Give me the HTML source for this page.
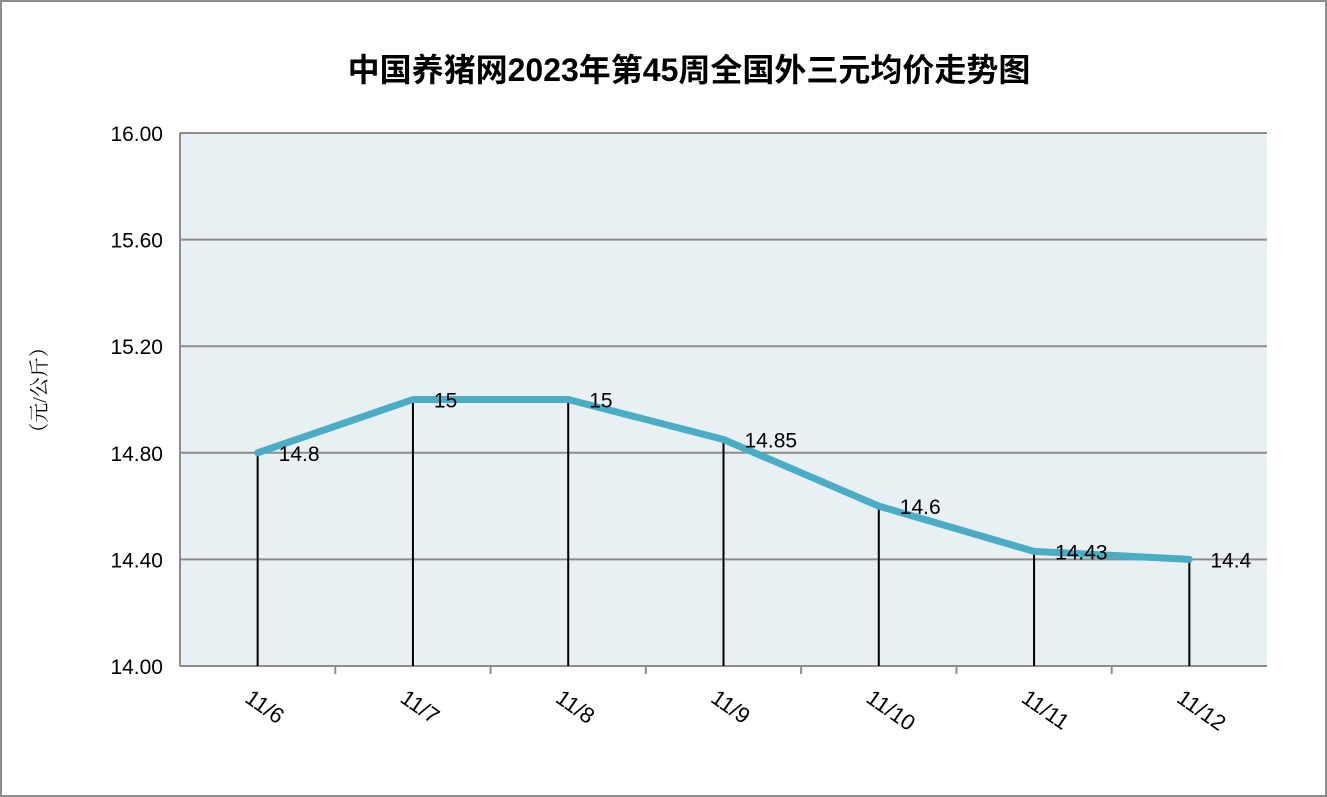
<!DOCTYPE html>
<html><head><meta charset="utf-8"><style>
html,body{margin:0;padding:0;background:#fff}
svg{display:block}
</style></head><body>
<svg id="chart" width="1327" height="797" xmlns="http://www.w3.org/2000/svg">
<rect x="1" y="1" width="1325" height="795" fill="#fff" stroke="#8c8c8c" stroke-width="2"/>
<text x="689" y="81" text-anchor="middle" font-family="'Liberation Sans','Noto Sans CJK SC',sans-serif" font-size="32" font-weight="600" fill="#000">中国养猪网2023年第45周全国外三元均价走势图</text>
<rect x="180" y="133" width="1087" height="533" fill="#e9f0f3"/>
<g id="grid"></g>
<g id="ylabels"></g>
<text transform="translate(46,390) rotate(-90)" text-anchor="middle" font-family="'Liberation Serif','Noto Serif CJK SC',serif" font-size="20" fill="#000">（元/公斤）</text>
<line x1="180" y1="133" x2="180" y2="666" stroke="#8c8c8c" stroke-width="2"/>
<line x1="180" y1="666" x2="1267" y2="666" stroke="#8c8c8c" stroke-width="2"/>
<g id="marks"></g>
<g id="xlabels"></g>
</svg>
<script>
const categories=["11/6","11/7","11/8","11/9","11/10","11/11","11/12"];
const values=[14.8,15,15,14.85,14.6,14.43,14.4];
const valueLabels=["14.8","15","15","14.85","14.6","14.43","14.4"];
const yTicks=[14.0,14.4,14.8,15.2,15.6,16.0];
const yTickLabels=["14.00","14.40","14.80","15.20","15.60","16.00"];
const NS="http://www.w3.org/2000/svg";
const L=180,R=1267,T=133,B=666,yMin=14,yMax=16;
const bw=(R-L)/categories.length;
const x=i=>L+bw*(i+0.5);
const y=v=>B-(v-yMin)/(yMax-yMin)*(B-T);
function mk(tag,attrs,parent,text){const e=document.createElementNS(NS,tag);for(const k in attrs)e.setAttribute(k,attrs[k]);if(text!=null)e.textContent=text;document.getElementById(parent).appendChild(e);return e;}
const F="'Liberation Sans','Noto Sans CJK SC',sans-serif";
yTicks.forEach((t,i)=>{
  if(t>yMin){const g=mk('line',{x1:L,y1:y(t),x2:R,y2:y(t),stroke:'#8c8c8c','stroke-width':2},'grid');
  
  }
  const tx=mk('text',{x:163,y:y(t)+8,'text-anchor':'end','font-family':F,'font-size':21,fill:'#000'},'ylabels',yTickLabels[i]);
  
  
});
for(let i=1;i<categories.length;i++){
  const tk=mk('line',{x1:L+bw*i,y1:B,x2:L+bw*i,y2:B+8,stroke:'#8c8c8c','stroke-width':2},'grid');
  
  
}
values.forEach((v,i)=>{
  const d=mk('line',{x1:x(i),y1:y(v),x2:x(i),y2:B,stroke:'#000','stroke-width':2},'marks');
  
  
});
const pl=mk('polyline',{points:values.map((v,i)=>x(i)+','+y(v)).join(' '),fill:'none',stroke:'#4bacc6','stroke-width':7,'stroke-linejoin':'round','stroke-linecap':'round'},'marks');


values.forEach((v,i)=>{
  const t=mk('text',{x:x(i)+21,y:y(v)+8,'font-family':F,'font-size':21,fill:'#000'},'marks',valueLabels[i]);
  
  
  const xl=mk('text',{transform:`translate(${x(i)-14},${701}) rotate(35)`,'font-family':F,'font-size':22,fill:'#000'},'xlabels',categories[i]);
  
  
});
</script>
</body></html>
